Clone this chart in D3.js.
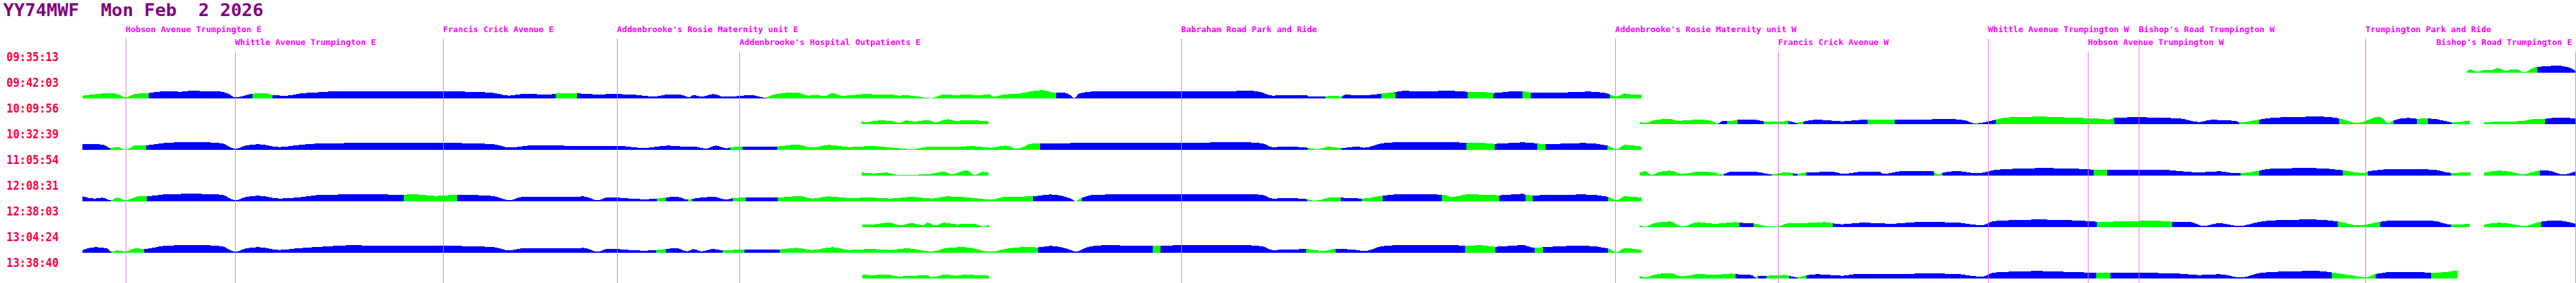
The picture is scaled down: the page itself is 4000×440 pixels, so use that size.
<!DOCTYPE html>
<meta charset="utf-8">

<style>
body { margin: 0; background: #fff; }
svg { display: block; }
.title { font-family: "DejaVu Sans Mono", monospace; font-weight: bold; fill: #800080; white-space: pre; }
.time { font-family: "DejaVu Sans Mono", monospace; font-weight: bold; fill: #ff0040; }
.stop { font-family: "DejaVu Sans Mono", monospace; font-weight: bold; fill: #ff00ff; }
.stopline { stroke: #ee66ee; stroke-width: 1; shape-rendering: crispEdges; }
.band { shape-rendering: crispEdges; }
</style>

<script src="https://d3js.org/d3.v7.min.js"></script>

<div id="trace"></div>

<script>

// header
var vehicle = "YY74MWF";
var dateLabel = "Mon Feb  2 2026";

// lap start times, one per row
var rowTimes = ["09:35:13", "09:42:03", "10:09:56", "10:32:39", "11:05:54",
                "12:08:31", "12:38:03", "13:04:24", "13:38:40"];

// timing points along the route (route position)
var stopNames = ["Hobson Avenue Trumpington E", "Whittle Avenue Trumpington E",
  "Francis Crick Avenue E", "Addenbrooke's Rosie Maternity unit E",
  "Addenbrooke's Hospital Outpatients E", "Babraham Road Park and Ride",
  "Addenbrooke's Rosie Maternity unit W", "Francis Crick Avenue W",
  "Whittle Avenue Trumpington W", "Hobson Avenue Trumpington W",
  "Bishop's Road Trumpington W", "Trumpington Park and Ride",
  "Bishop's Road Trumpington E"];
var stopPos = [195, 365, 688, 958, 1148, 1834, 2508, 2761, 3087, 3242, 3321, 3673, 3999];

// per row: pieces of [route position, value]
var row0 = [
  [[3830,1],[3835,5],[3847,1.5],[3856,4],[3868,4],[3879,7],[3891,3],[3899,5],[3909,5],[3919,0.5],[3935,8],[3940,9],[3955,10],[3970,11],[3986,9],[3996,5],[4000,2]]
];
var row1 = [
  [[128,4.3],[137,5.3],[153,7],[172,8.3],[185,6],[195,1.5],[210,7],[220,7.7],[231,8.3],[242,10],[261,11],[281,10.3],[300,12.3],[319,10.7],[338,11],[354,7.7],[365,1.7],[376,3.3],[389,6.7],[400,7.7],[415,7.7],[423,5],[446,4.3],[466,7.7],[491,9.3],[517,10.7],[574,10.7],[638,10.7],[702,10.7],[740,10],[765,8.7],[791,4.3],[810,6.7],[855,6.3],[870,8.3],[890,8.3],[899,7.7],[925,6.3],[957,6.7],[995,5],[1000,3.7],[1019,3.3],[1038,6.3],[1057,5.7],[1070,2],[1077,5.3],[1089,2.7],[1108,6.7],[1124,2.7],[1147,3.7],[1166,5.3],[1189,1],[1198,5],[1217,8.3],[1236,9.3],[1255,4.3],[1268,5.3],[1281,3.7],[1293,8.3],[1306,4.3],[1325,5],[1344,7],[1370,5.7],[1383,6.3],[1395,4.3],[1408,5],[1434,1.7],[1446,0.3],[1466,6.3],[1485,5],[1497,6],[1523,5],[1536,6.7],[1542,2.7],[1561,6.3],[1580,7],[1600,11],[1619,12.7],[1638,9],[1651,9.3],[1663,4.3],[1668,0.3],[1676,7.7],[1702,11],[1765,10.7],[1829,11.3],[1893,10.7],[1938,12],[1957,10],[1976,4.3],[1995,5.3],[2000,5],[2029,5],[2032,2.7],[2059,2.7],[2064,4.3],[2083,3.3],[2089,5.7],[2115,5],[2140,6.7],[2147,7.7],[2167,10],[2179,11.7],[2210,11],[2242,11.7],[2274,11],[2279,10],[2300,10.3],[2319,8.3],[2344,10.7],[2364,11.3],[2377,9],[2414,8.7],[2466,10.7],[2491,8.7],[2500,6],[2510,2.7],[2523,7.7],[2536,5.7],[2549,5.7]]
];
var row2 = [
  [[1338,5],[1344,2.7],[1357,5],[1370,5.7],[1389,4.3],[1395,2],[1408,5.7],[1421,4],[1440,6.3],[1453,3],[1472,7.7],[1485,4.7],[1497,6.3],[1517,5.7],[1535,4.3]],
  [[2546,3.3],[2555,2],[2568,6],[2593,8.3],[2606,5],[2638,7.3],[2657,5],[2668,1],[2676,5.3],[2686,5],[2702,7],[2727,6.7],[2739,4.3],[2759,3.7],[2777,5],[2788,2.3],[2797,3],[2805,5],[2823,7],[2861,4.3],[2880,6],[2900,7],[2942,7],[3000,7.5],[3019,8.3],[3051,6],[3067,1],[3083,3.3],[3099,7],[3115,10.3],[3172,11.7],[3223,9.7],[3255,9],[3274,7],[3283,9.7],[3319,10.7],[3383,9],[3415,3.3],[3434,6.7],[3472,5],[3477,2.7],[3508,7],[3529,10],[3606,11.7],[3632,9],[3660,1.7],[3695,11.7],[3708,1.7],[3717,6],[3740,9.7],[3753,8.3],[3770,9],[3797,5],[3807,2.7],[3835,5.7]],
  [[3857,3.3],[3893,4],[3918,5],[3938,8.3],[3952,8.3],[3969,10.3],[4000,9]]
];
var row3 = [
  [[128,8.7],[153,8.7],[165,6],[171,2.7],[182,4.3],[195,0.3],[210,6.7],[227,7],[255,10.7],[300,12.3],[344,10.3],[365,1.7],[383,7],[402,8.7],[434,4.3],[459,7],[497,10],[574,10.7],[702,10.7],[765,9],[791,3.7],[829,7],[893,6.3],[957,6.3],[1000,3],[1038,6.7],[1064,5],[1077,5.3],[1096,2],[1112,6.7],[1128,2.3],[1134,3.7],[1153,5.3],[1207,5.3],[1236,8.3],[1261,3.7],[1287,7.7],[1319,4.3],[1351,6],[1383,3.7],[1415,1],[1446,5.3],[1478,5],[1510,5.7],[1539,3.3],[1561,6.7],[1580,1.7],[1600,9.3],[1615,10.3],[1638,10],[1702,11.3],[1829,11.3],[1938,11.7],[1960,10],[1976,4.3],[2000,5],[2031,3.3],[2045,1],[2064,5],[2083,2.7],[2108,5.3],[2118,3.3],[2147,10.3],[2179,12],[2255,12],[2277,11],[2300,11],[2321,9.3],[2364,11.7],[2387,10],[2400,8.7],[2459,10.7],[2496,6.7],[2510,1],[2523,7.7],[2549,5]]
];
var row4 = [
  [[1338,5],[1357,3.3],[1376,4.7],[1395,1],[1434,1.7],[1446,2.7],[1466,6.3],[1478,2],[1501,8.3],[1513,1],[1526,5.7],[1535,5]],
  [[2546,4.3],[2555,7],[2564,1],[2574,5],[2593,7.7],[2612,2.7],[2638,6],[2663,5],[2670,1.7],[2677,2.7],[2689,6.3],[2727,5.7],[2751,2],[2775,5.3],[2784,3.7],[2791,2.7],[2805,5],[2848,5.7],[2861,2.7],[2893,6],[2918,6],[2925,2.7],[2957,7.3],[3000,7.3],[3010,1.7],[3016,4.3],[3038,7],[3070,3.7],[3102,9.3],[3172,11.7],[3242,10],[3251,9],[3272,9.3],[3351,9.3],[3415,5],[3446,6.7],[3472,3.7],[3479,3.7],[3508,7.7],[3529,11],[3593,11.7],[3638,8.3],[3673,3.7],[3677,6.7],[3721,10.3],[3778,9.3],[3806,4.3],[3836,5]],
  [[3857,4.3],[3880,7.7],[3899,6],[3918,2],[3943,7.7],[3957,7.7],[3980,1.7],[4000,7]]
];
var row5 = [
  [[128,7.7],[147,4.3],[159,5.7],[172,1.7],[182,5.7],[195,1.7],[217,8.3],[228,7.7],[255,10.7],[300,11.7],[344,10.3],[365,1.7],[383,7],[402,8.7],[434,4.3],[459,5.7],[504,10.3],[574,10.7],[627,10.3],[644,11],[676,8.3],[710,10.3],[765,8.3],[791,1.7],[810,6.7],[893,7],[906,7.7],[928,1.7],[944,6.3],[1000,3.3],[1020,4.3],[1034,6],[1051,7],[1068,2.7],[1075,4],[1108,7],[1128,2.7],[1138,5],[1158,5.7],[1208,5.7],[1242,8.3],[1261,4.3],[1287,7.7],[1319,5],[1351,6],[1383,4.3],[1415,7],[1446,4.3],[1472,7.7],[1510,5.3],[1539,2.7],[1561,7],[1604,7.7],[1631,10.7],[1663,4.3],[1670,0.3],[1680,5.7],[1702,10.3],[1829,11.3],[1938,11.3],[1960,10],[1976,4.3],[2000,5],[2030,3.3],[2041,1],[2070,6.3],[2082,5.7],[2115,4.3],[2147,8.7],[2179,11.3],[2239,10.3],[2255,7],[2281,11],[2328,9.3],[2364,11.7],[2369,10.3],[2380,9.3],[2459,10.7],[2497,7],[2510,1.7],[2523,7.7],[2549,5.7]]
];
var row6 = [
  [[1339,4.3],[1357,4.3],[1379,7],[1399,2.7],[1415,6],[1434,3],[1440,6.7],[1453,2.7],[1466,6.7],[1485,4.3],[1510,5.3],[1529,1],[1536,4.3]],
  [[2546,2.7],[2555,1],[2568,5.7],[2593,8.7],[2612,1],[2638,7.7],[2663,5],[2695,7.7],[2701,6.7],[2723,5.7],[2740,1.7],[2759,1],[2778,6],[2804,6.3],[2835,7.7],[2846,5.7],[2861,4.3],[2893,7],[2938,5],[2976,7.7],[3000,7.7],[3038,7],[3077,2.7],[3096,9.3],[3166,11.7],[3242,9.3],[3256,8.3],[3319,9.3],[3338,10.3],[3373,8.3],[3402,7.7],[3421,1.7],[3446,6],[3477,1.7],[3510,8.3],[3529,10.3],[3593,11.7],[3630,8.7],[3663,2.7],[3689,7],[3696,8.3],[3721,10.3],[3778,9.7],[3806,3.7],[3835,5]],
  [[3857,3.7],[3880,6.7],[3899,5],[3918,1.7],[3946,8.3],[3969,10.3],[4000,5]]
];
var row7 = [
  [[128,4.3],[147,8.7],[166,7],[173,1.7],[182,3.7],[195,2],[210,7],[224,6],[255,10.7],[300,12.3],[344,10.3],[365,1.7],[383,7],[402,8.7],[434,4.3],[459,6.7],[510,10],[542,11.7],[638,10.7],[702,10.7],[765,9],[791,3.7],[810,6.7],[893,6.7],[906,7.7],[928,1.7],[944,6.3],[1000,3.3],[1019,4.3],[1034,6],[1051,7],[1067,2.3],[1077,5.7],[1089,2.3],[1108,6],[1122,3.7],[1156,5.3],[1211,5.3],[1236,7.7],[1261,4.3],[1293,8.7],[1319,4.3],[1351,6],[1383,4.3],[1408,7],[1446,2],[1472,7.7],[1497,8.7],[1539,1.7],[1561,6],[1593,9],[1612,8.3],[1631,10.7],[1663,4.3],[1670,1.7],[1689,9],[1714,11.7],[1790,11],[1802,11],[1829,11.7],[1938,11.7],[1960,10],[1976,4.3],[2000,5],[2028,5.7],[2054,2.7],[2074,6],[2108,4.3],[2118,2.7],[2147,10.3],[2179,12],[2255,12],[2275,11],[2300,11.7],[2322,9.3],[2364,12],[2383,7.7],[2396,8.7],[2459,11],[2497,6.7],[2510,1],[2523,7],[2549,4.3]]
];
var row8 = [
  [[1339,6],[1357,5.3],[1376,6.3],[1395,3.3],[1421,4.3],[1440,5.3],[1446,2],[1469,6.3],[1485,4.3],[1497,6],[1523,5],[1536,4.3]],
  [[2546,4.3],[2555,1.7],[2568,5.7],[2593,8.3],[2612,3.3],[2638,7],[2663,5.7],[2689,7.7],[2695,6.7],[2721,5.3],[2726,1.7],[2730,4.3],[2743,4.3],[2772,5.7],[2778,4.3],[2791,1.7],[2805,5],[2823,6.7],[2861,4.3],[2880,6.7],[2957,7.3],[3000,7.7],[3038,7],[3077,2.7],[3096,9.3],[3166,11.7],[3242,9.3],[3255,9.3],[3277,9.3],[3383,7.7],[3415,5.3],[3446,6.7],[3480,1.7],[3510,8.7],[3542,10.7],[3599,11.7],[3621,9.3],[3651,5],[3673,1.7],[3689,7],[3721,10.3],[3775,9.3],[3790,9.5],[3816,12.7]]
];

// colour changes per row: [route position, state]
var breaks0 = [[3830,"G"],[3940,"B"]];
var breaks1 = [[128,"G"],[231,"B"],[392,"G"],[423,"B"],[863,"G"],[896,"B"],[1191,"G"],[1640,"B"],[2058,"G"],[2084,"B"],[2145,"G"],[2167,"B"],[2279,"G"],[2319,"B"],[2364,"G"],[2377,"B"],[2500,"G"]];
var breaks2 = [[1338,"G"],[2546,"G"],[2668,"B"],[2682,"G"],[2698,"B"],[2739,"G"],[2777,"B"],[2791,"G"],[2800,"B"],[2900,"G"],[2942,"B"],[3099,"G"],[3283,"B"],[3477,"G"],[3508,"B"],[3632,"G"],[3717,"B"],[3753,"G"],[3770,"B"],[3807,"G"],[3952,"B"]];
var breaks3 = [[128,"B"],[171,"G"],[227,"B"],[1134,"G"],[1153,"B"],[1207,"G"],[1615,"B"],[2031,"G"],[2083,"B"],[2277,"G"],[2321,"B"],[2387,"G"],[2400,"B"],[2496,"G"]];
var breaks4 = [[1338,"G"],[2546,"G"],[2677,"B"],[2751,"G"],[2784,"B"],[2791,"G"],[2805,"B"],[3003,"G"],[3016,"B"],[3251,"G"],[3272,"B"],[3479,"G"],[3508,"B"],[3638,"G"],[3677,"B"],[3806,"G"],[3944,"B"]];
var breaks5 = [[128,"B"],[172,"G"],[228,"B"],[627,"G"],[710,"B"],[1020,"G"],[1034,"B"],[1068,"G"],[1075,"B"],[1138,"G"],[1158,"B"],[1208,"G"],[1604,"B"],[1670,"G"],[1680,"B"],[2030,"G"],[2082,"B"],[2115,"G"],[2147,"B"],[2239,"G"],[2328,"B"],[2369,"G"],[2380,"B"],[2497,"G"]];
var breaks6 = [[1339,"G"],[2546,"G"],[2701,"B"],[2723,"G"],[2846,"B"],[3256,"G"],[3373,"B"],[3630,"G"],[3696,"B"],[3806,"G"],[3946,"B"]];
var breaks7 = [[128,"B"],[173,"G"],[224,"B"],[1019,"G"],[1034,"B"],[1122,"G"],[1156,"B"],[1211,"G"],[1612,"B"],[1790,"G"],[1802,"B"],[2028,"G"],[2074,"B"],[2275,"G"],[2322,"B"],[2383,"G"],[2396,"B"],[2497,"G"]];
var breaks8 = [[1339,"G"],[2546,"G"],[2695,"B"],[2726,"G"],[2730,"B"],[2743,"G"],[2778,"B"],[2791,"G"],[2805,"B"],[3255,"G"],[3277,"B"],[3621,"G"],[3689,"B"],[3775,"G"]];

var profiles = [row0, row1, row2, row3, row4, row5, row6, row7, row8];
var breaks = [breaks0, breaks1, breaks2, breaks3, breaks4, breaks5, breaks6, breaks7, breaks8];
var stateColour = {G: "#00ff00", B: "#0000ff"};

// dimensions
var margin = {top: 0, right: 0, bottom: 0, left: 128},
    width = 4000, height = 440,
    charW = 7.85;

var svg = d3.select("#trace").append("svg")
  .attr("width", width)
  .attr("height", height);

// scales
var x = d3.scaleLinear().domain([128, 4000]).range([margin.left, width]);
var rowY = d3.scaleLinear().domain([0, rowTimes.length - 1]).range([113, 433]);
var h = d3.scaleLinear().domain([0, 13]).range([0, 13]);

// title
svg.append("text")
  .attr("class", "title")
  .attr("x", 5).attr("y", 25)
  .style("font-size", "27px")
  .attr("textLength", 404)
  .attr("lengthAdjust", "spacingAndGlyphs")
  .text(vehicle + "  " + dateLabel);

// time labels
svg.selectAll(".time")
  .data(rowTimes)
  .enter().append("text")
  .attr("class", "time")
  .attr("x", 10)
  .attr("y", function(d, i) { return rowY(i) - 18; })
  .style("font-size", "20px")
  .attr("textLength", 81)
  .attr("lengthAdjust", "spacingAndGlyphs")
  .text(function(d) { return d; });

// bands
var defs = svg.append("defs");
var area = d3.area()
  .curve(d3.curveMonotoneX)
  .x(function(d) { return x(d[0]); });

profiles.forEach(function(pieces, r) {
  var base = rowY(r);
  area.y0(base).y1(function(d) { return base - h(d[1]); });
  var runs = breaks[r];
  runs.forEach(function(b, i) {
    var start = b[0];
    var end = i < runs.length - 1 ? runs[i + 1][0] : 4000;
    var id = "clip-" + r + "-" + i;
    defs.append("clipPath").attr("id", id)
      .append("rect")
      .attr("x", x(start)).attr("width", x(end) - x(start))
      .attr("y", base - 20).attr("height", 20);
    svg.append("g")
      .attr("clip-path", "url(#" + id + ")")
      .selectAll("path")
      .data(pieces)
      .enter().append("path")
      .attr("class", "band")
      .attr("d", area)
      .style("fill", stateColour[b[1]]);
  });
});

// stop lines and labels, staggered on two tiers when they would collide
var lastEnd = -Infinity;
var stops = stopNames.map(function(name, i) {
  var w = name.length * charW - 1;
  var px = Math.round(x(stopPos[i]));
  var lx = Math.min(px, width - w - 6);
  var tier = lx < lastEnd + 2 ? 1 : 0;
  if (tier === 0) lastEnd = lx + w;
  return {name: name, px: px, lx: lx, w: w, tier: tier};
});

svg.selectAll(".stopline")
  .data(stops)
  .enter().append("line")
  .attr("class", "stopline")
  .attr("x1", function(d) { return d.px + 0.5; })
  .attr("x2", function(d) { return d.px + 0.5; })
  .attr("y1", function(d) { return 60 + d.tier * 20; })
  .attr("y2", height);

svg.selectAll(".stop")
  .data(stops)
  .enter().append("text")
  .attr("class", "stop")
  .attr("x", function(d) { return d.lx; })
  .attr("y", function(d) { return 50 + d.tier * 20; })
  .style("font-size", "13px")
  .attr("textLength", function(d) { return d.w; })
  .attr("lengthAdjust", "spacingAndGlyphs")
  .text(function(d) { return d.name; });

</script>
